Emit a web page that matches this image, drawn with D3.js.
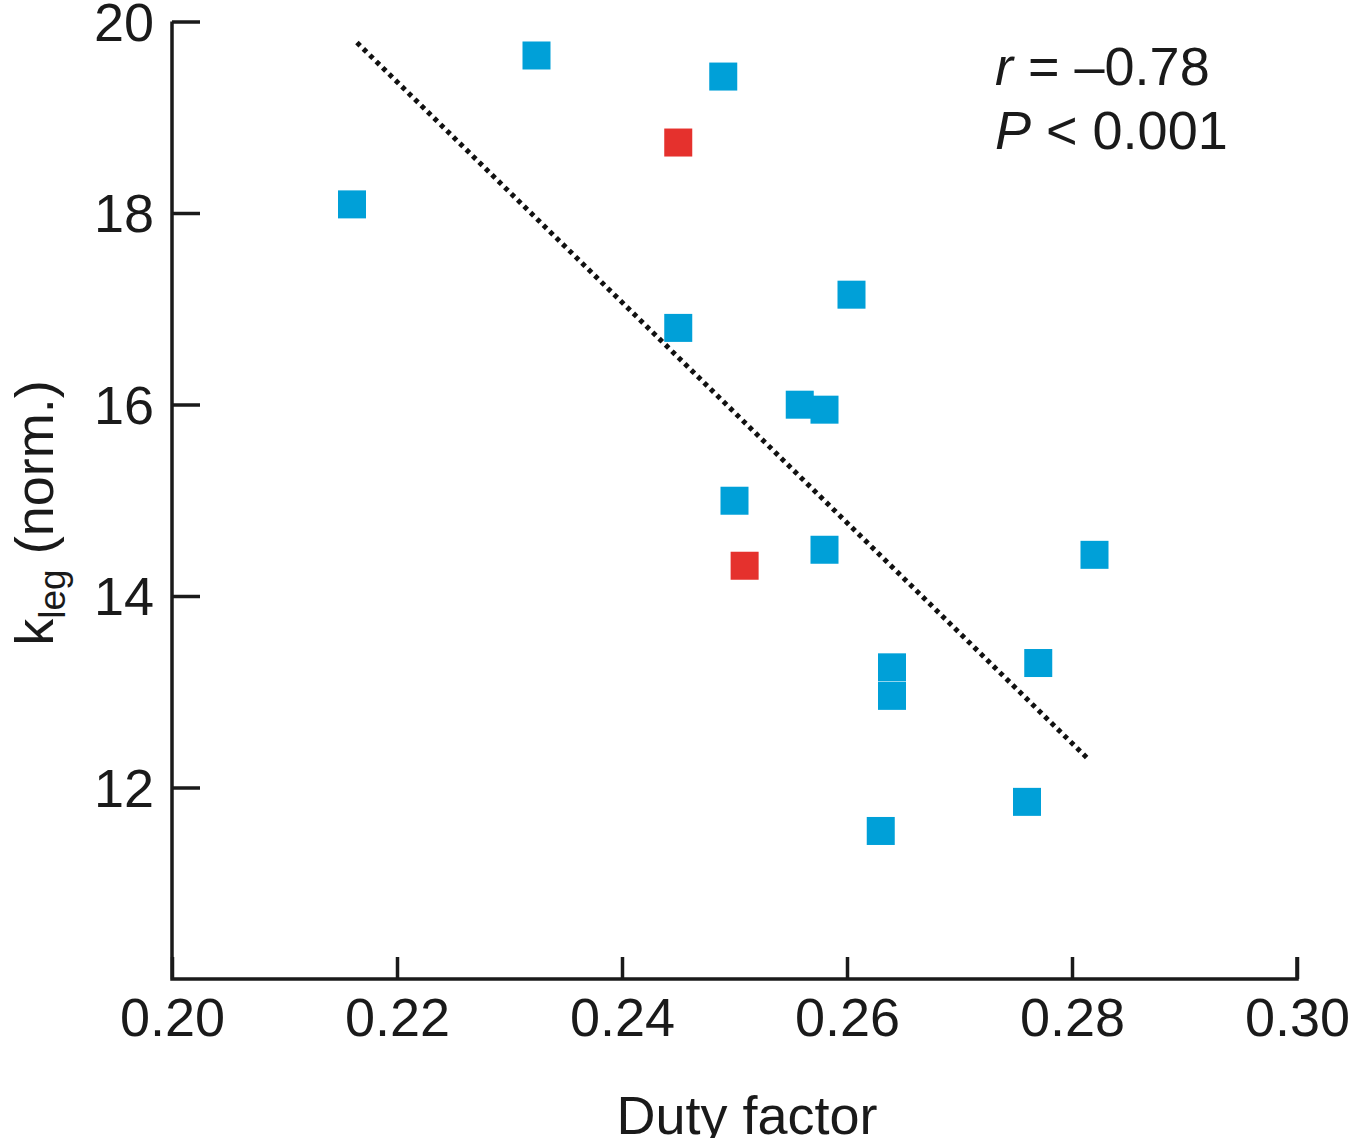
<!DOCTYPE html>
<html><head><meta charset="utf-8">
<script src="https://cdn.jsdelivr.net/npm/d3@7"></script>
<style>body{margin:0;background:#fff}svg{display:block}text{font-family:"Liberation Sans",Arial,sans-serif;fill:#1a1a1a}</style>
</head><body>
<svg id="c" width="1350" height="1138"></svg>
<script>
const dutyFactor = [0.2160,0.2324,0.2490,0.2450,0.2604,0.2450,0.2558,0.2580,0.2500,0.2509,0.2580,0.2820,0.2640,0.2640,0.2770,0.2760,0.2630];
const kLeg       = [18.09,19.645,19.425,18.736,17.147,16.80,15.998,15.946,14.995,14.316,14.483,14.43,13.255,12.957,13.30,11.85,11.546];
const group      = ["b","b","b","r","b","b","b","b","b","r","b","b","b","b","b","b","b"];
const trendX = [0.21644, 0.28133];
const trendY = [19.78, 12.31];
const xTicks = [0.20,0.22,0.24,0.26,0.28,0.30];
const yTicks = [12,14,16,18,20];
const statLines = [["r"," = \u20130.78"],["P"," < 0.001"]];

const svg = d3.select("#c");
const x = d3.scaleLinear().domain([0.20,0.30]).range([172,1297]);
const y = d3.scaleLinear().domain([10,20]).range([979,21.5]);
const colors = {b:"#00a0d8", r:"#e5312d"};
const stroke = "#1a1a1a";
const FS = 54;

// axes
const gx = svg.append("g").attr("transform","translate(0,979)")
  .call(d3.axisBottom(x).tickValues(xTicks).tickSize(-22).tickPadding(19).tickFormat(d3.format(".2f")));
const gy = svg.append("g").attr("transform","translate(172,0)")
  .call(d3.axisLeft(y).tickValues(yTicks).tickSize(-28).tickPadding(18).tickFormat(d3.format("d")));
[gx,gy].forEach(g=>{
  g.select(".domain").remove();
  g.selectAll(".tick line").attr("stroke",stroke).attr("stroke-width",3.5);
  g.selectAll(".tick text").attr("font-size",FS).attr("fill","#1a1a1a").attr("font-family",'"Liberation Sans",Arial,sans-serif');
});
gx.selectAll(".tick text").attr("dy","0.71em");
gy.selectAll(".tick text").attr("dy","0.35em");
// axis frame lines
svg.append("path").attr("d",`M${x(0.20)},${y(20)}V${y(10)}H${x(0.30)}V${y(10)-22}`)
  .attr("fill","none").attr("stroke",stroke).attr("stroke-width",3.5).attr("stroke-linejoin","miter");

// trend line
svg.append("line").attr("x1",x(trendX[0])).attr("y1",y(trendY[0])).attr("x2",x(trendX[1])).attr("y2",y(trendY[1]))
  .attr("stroke","#111").attr("stroke-width",5).attr("stroke-dasharray","4.5,4.5");

// points
const s = 28;
svg.append("g").selectAll("rect").data(dutyFactor.map((d,i)=>({x:d,y:kLeg[i],g:group[i]})))
  .join("rect").attr("x",d=>x(d.x)-s/2).attr("y",d=>y(d.y)-s/2).attr("width",s).attr("height",s)
  .attr("fill",d=>colors[d.g]);

// stats text
statLines.forEach((l,i)=>{
  const t = svg.append("text").attr("x",995).attr("y",85+i*64).attr("font-size",FS);
  t.append("tspan").attr("font-style","italic").text(l[0]);
  t.append("tspan").text(l[1]);
});

// axis labels
svg.append("text").attr("x",747).attr("y",1134).attr("text-anchor","middle").attr("font-size",FS).text("Duty factor");
const yl = svg.append("text").attr("transform","translate(53,513) rotate(-90)").attr("text-anchor","middle").attr("font-size",FS);
yl.append("tspan").text("k");
yl.append("tspan").attr("font-size",37).attr("dy",12).text("leg");
yl.append("tspan").attr("dy",-12).text(" (norm.)");
</script>
</body></html>
